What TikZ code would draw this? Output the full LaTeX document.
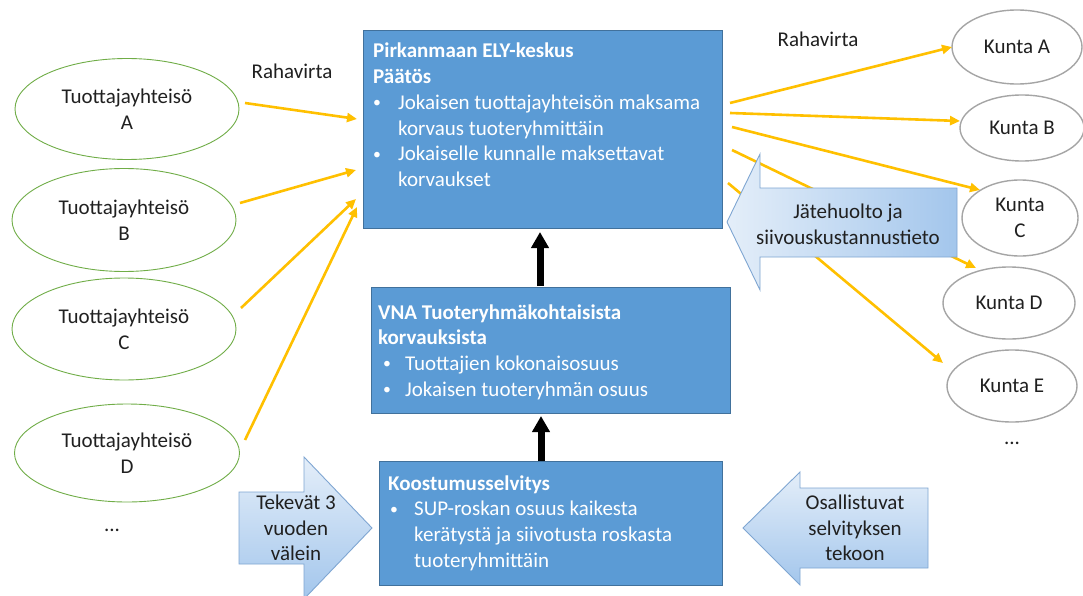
\documentclass[tikz,border=0pt]{standalone}
\usepackage{fontspec}
\setmainfont{Carlito}
\usetikzlibrary{shapes.geometric,arrows.meta}
\definecolor{boxblue}{HTML}{5B9BD5}
\definecolor{boxedge}{HTML}{41719C}
\definecolor{gold}{HTML}{FFC000}
\definecolor{grn}{HTML}{70AD47}
\definecolor{gry}{HTML}{A5A5A5}
\definecolor{txt}{HTML}{202020}
\definecolor{arrL}{HTML}{E4EEF9}
\definecolor{arrD}{HTML}{A3C6EC}
\definecolor{arrEdge}{HTML}{7FA6D2}
\newcommand{\mybul}{\raisebox{1.5pt}{\scalebox{0.75}{•}}}
\tikzset{
  basefont/.style={font=\fontsize{21}{25.7}\selectfont},
  bluebox/.style={draw=boxedge, fill=boxblue, line width=1pt, anchor=north west, inner sep=0pt},
  boxtext/.style={basefont, text=white, anchor=base west, inner sep=0pt},
  prod/.style={basefont, ellipse, draw=grn, line width=0.9pt, align=center, text=txt, inner sep=0pt},
  kunta/.style={basefont, ellipse, draw=gry, line width=1.4pt, align=center, text=txt, inner sep=0pt},
  money/.style={draw=gold, line width=2.6pt, -{Triangle[length=10pt,width=9pt]}},
  flow/.style={draw=black, line width=7pt, -{Triangle[length=16pt,width=17pt]}},
  blockarrow/.style={draw=arrEdge, line width=0.9pt},
  lbl/.style={basefont, text=txt, inner sep=0pt, align=center},
}
\begin{document}
\begin{tikzpicture}[x=1pt,y=-1pt]
\fill[white] (0,0) rectangle (1083,596);
\useasboundingbox (0,0) rectangle (1083,596);

% main boxes
\node[bluebox, minimum width=359pt, minimum height=198pt] (ely) at (363,30) {};
\node[bluebox, minimum width=359pt, minimum height=126pt] (vna) at (371,287) {};
\node[bluebox, minimum width=343pt, minimum height=124pt] (koost) at (379,461) {};

\node[boxtext] (elyt) at (373,58) {\begin{tabular}[t]{@{}p{25pt}@{}l@{}}
\multicolumn{2}{@{}l@{}}{\textbf{Pirkanmaan ELY-keskus}}\\
\multicolumn{2}{@{}l@{}}{\textbf{Päätös}}\\
\mybul&Jokaisen tuottajayhteisön maksama\\
&korvaus tuoteryhmittäin\\
\mybul&Jokaiselle kunnalle maksettavat\\
&korvaukset
\end{tabular}};

\node[boxtext] (vnat) at (378,319) {\begin{tabular}[t]{@{}p{27pt}@{}l@{}}
\multicolumn{2}{@{}l@{}}{\textbf{VNA Tuoteryhmäkohtaisista}}\\
\multicolumn{2}{@{}l@{}}{\textbf{korvauksista}}\\
\hspace*{5pt}\mybul&Tuottajien kokonaisosuus\\
\hspace*{5pt}\mybul&Jokaisen tuoteryhmän osuus
\end{tabular}};

\node[boxtext] (koostt) at (388,490) {\begin{tabular}[t]{@{}p{26pt}@{}l@{}}
\multicolumn{2}{@{}l@{}}{\textbf{Koostumusselvitys}}\\
\hspace*{2pt}\mybul&SUP-roskan osuus kaikesta\\
&kerätystä ja siivotusta roskasta\\
&tuoteryhmittäin
\end{tabular}};

% producer ellipses
\node[prod, minimum width=224pt, minimum height=101pt] (pA) at (127,109) {Tuottajayhteisö\\A};
\node[prod, minimum width=224pt, minimum height=103pt] (pB) at (124,220) {Tuottajayhteisö\\B};
\node[prod, minimum width=224pt, minimum height=102pt] (pC) at (124,329) {Tuottajayhteisö\\C};
\node[prod, minimum width=225pt, minimum height=98pt] (pD) at (127,453) {Tuottajayhteisö\\D};
\node[lbl] (pdots) at (112,530) {...};

% municipality ellipses
\node[kunta, minimum width=130pt, minimum height=74pt] (kA) at (1017,47) {Kunta A};
\node[kunta, minimum width=124pt, minimum height=66pt] (kB) at (1022,128) {Kunta B};
\node[kunta, minimum width=116pt, minimum height=76pt] (kC) at (1020,218) {Kunta\\C};
\node[kunta, minimum width=132pt, minimum height=72pt] (kD) at (1009,303) {Kunta D};
\node[kunta, minimum width=130pt, minimum height=72pt] (kE) at (1012,386) {Kunta E};
\node[lbl] (kdots) at (1012,443) {...};

% labels
\node[lbl, anchor=base] (rl) at (292,79) {Rahavirta};
\node[lbl, anchor=base] (rr) at (818,47) {Rahavirta};

% money flow coordinates
\coordinate (sA) at (245,103); \coordinate (eA) at (357,119);
\coordinate (sB) at (240,203); \coordinate (eB) at (356,170);
\coordinate (sC) at (241,308); \coordinate (eC) at (356,199);
\coordinate (sD) at (245,440); \coordinate (eD) at (357,207);
\draw[money] (sA) -- (eA);
\draw[money] (sB) -- (eB);
\draw[money] (sC) -- (eC);
\draw[money] (sD) -- (eD);

\coordinate (tA) at (730,103); \coordinate (fA) at (952,47);
\coordinate (tB) at (730,113); \coordinate (fB) at (960,121);
\coordinate (tC) at (732,127); \coordinate (fC) at (980,190);
\coordinate (tD) at (732,150); \coordinate (fD) at (976,268);
\coordinate (tE) at (728,183); \coordinate (fE) at (943,363);
\draw[money] (tA) -- (fA);
\draw[money] (tB) -- (fB);
\draw[money] (tC) -- (fC);
\draw[money] (tD) -- (fD);
\draw[money] (tE) -- (fE);

% black flow arrows
\coordinate (vnaTop) at (540,286); \coordinate (elyBot) at (540,232);
\coordinate (koTop) at (541,461); \coordinate (vnaBot) at (541,416);
\draw[flow] (vnaTop) -- (elyBot);
\draw[flow] (koTop) -- (vnaBot);

% block arrows
\path[blockarrow, left color=arrL, right color=arrD]
  (727,222) -- (760,154) -- (760,188) -- (957,188) -- (957,257) -- (760,257) -- (760,290) -- cycle;
\node[lbl] (jate) at (848,224) {Jätehuolto ja\\siivouskustannustieto};

\path[blockarrow, top color=arrL, bottom color=arrD]
  (239,492) -- (304,492) -- (304,457) -- (372,528) -- (304,599) -- (304,564) -- (239,564) -- cycle;
\node[lbl] (tek) at (296,528) {Tekevät 3\\vuoden\\välein};

\path[blockarrow, top color=arrL, bottom color=arrD]
  (743,528) -- (800,472) -- (800,488) -- (928,488) -- (928,568) -- (800,568) -- (800,585) -- cycle;
\node[lbl] (osa) at (855,528) {Osallistuvat\\selvityksen\\tekoon};
\end{tikzpicture}
\end{document}
